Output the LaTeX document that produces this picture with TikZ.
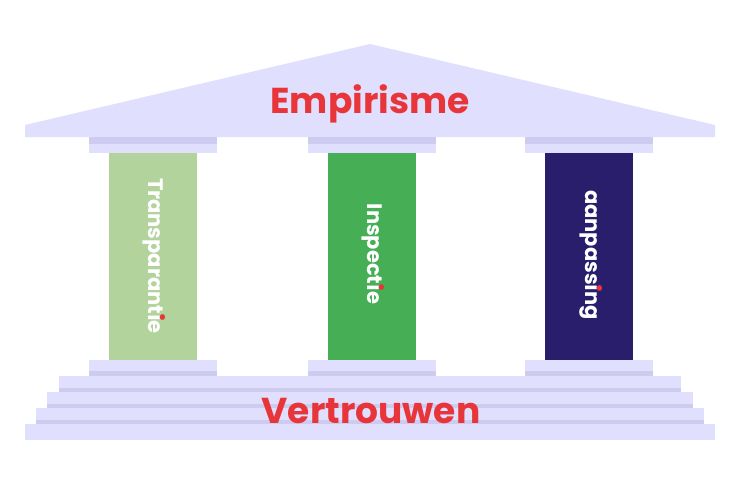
\documentclass[tikz,border=0pt]{standalone}
\usepackage{fontspec}
\setmainfont{Poppins}
\usetikzlibrary{positioning}
\definecolor{lavender}{HTML}{E0DFFE}
\definecolor{lavdark}{HTML}{CDCBF0}
\definecolor{textred}{HTML}{E8353A}
\definecolor{pillarA}{HTML}{B3D39D}
\definecolor{pillarB}{HTML}{46AE55}
\definecolor{pillarC}{HTML}{291E6B}
% dotless i with a red dot on top
\newcommand{\rdi}{\ooalign{\i\cr\hidewidth\raisebox{0.56em}{\color{textred}\scalebox{1.35}{.}}\hidewidth\cr}}
\begin{document}
\begin{tikzpicture}[x=1pt,y=-1pt,
  title/.style={text=textred, anchor=base, font=\fontsize{36}{40}\selectfont\bfseries},
  pillartext/.style={text=white, rotate=-90, font=\fontsize{21}{24}\selectfont\bfseries}]
  \useasboundingbox (0,0) rectangle (740,477);
  % roof
  \fill[lavender] (25,137) -- (25,125) -- (370,44) -- (715,125) -- (715,137) -- cycle;
  \node[title] (roof) at (370,113) {Empirisme};
  % columns with their capitals and bases
  \foreach \cx/\col in {153/pillarA, 372/pillarB, 589/pillarC}{
    \fill[lavdark] (\cx-64,137) rectangle (\cx+64,144);
    \fill[lavender] (\cx-64,144) rectangle (\cx+64,152.5);
    \fill[\col] (\cx-44,152.5) rectangle (\cx+44,360);
    \fill[lavender] (\cx-64,360) rectangle (\cx+64,371);
    \fill[lavdark] (\cx-64,371) rectangle (\cx+64,376);
  }
  \node[pillartext] (transp) at (153,256) {Transparant\rdi e};
  \node[pillartext] (insp) at (372,254) {Inspect\rdi e};
  \node[pillartext] (aanp) at (589,255) {aanpass\rdi ng};
  % steps
  \foreach \l/\t in {59/376, 47/392, 36/408}{
    \fill[lavender] (\l,\t) rectangle (740-\l,\t+12);
    \fill[lavdark] (\l,\t+12) rectangle (740-\l,\t+16);
  }
  \fill[lavender] (25,424) rectangle (715,440);
  \node[title] (base) at (371,423) {Vertrouwen};
\end{tikzpicture}
\end{document}
